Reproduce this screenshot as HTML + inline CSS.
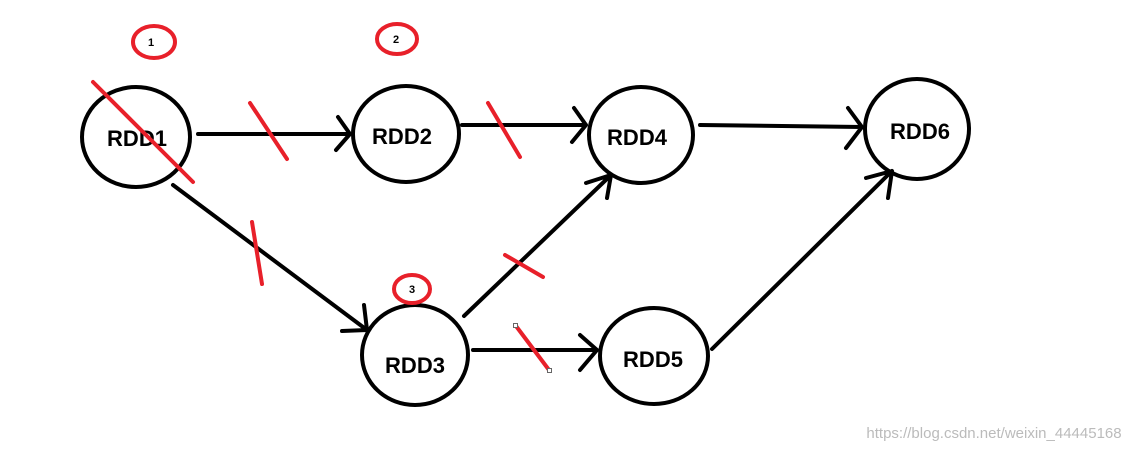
<!DOCTYPE html>
<html><head><meta charset="utf-8"><style>
html,body{margin:0;padding:0;background:#fff;}
svg{display:block;}
text{font-family:"Liberation Sans",sans-serif;}
</style></head><body>
<svg width="1137" height="452" viewBox="0 0 1137 452" xmlns="http://www.w3.org/2000/svg">
<g fill="none" stroke="#000" stroke-width="4" stroke-linecap="round" stroke-linejoin="round">
<ellipse cx="136" cy="137" rx="54" ry="50"/>
<ellipse cx="406" cy="134" rx="53" ry="48"/>
<ellipse cx="641" cy="135" rx="52" ry="48"/>
<ellipse cx="917" cy="129" rx="52" ry="50"/>
<ellipse cx="415" cy="355" rx="53" ry="50"/>
<ellipse cx="654" cy="356" rx="54" ry="48"/>
<path d="M198 134H350M338 117L350 134L336 150"/>
<path d="M173 185L367 330M364 305L367 330L342 331"/>
<path d="M462 125H586M574 108L586 125L572 142"/>
<path d="M700 125L862 127M848 108L862 127L846 148"/>
<path d="M464 316L610 176M586 183L611 175L607 198"/>
<path d="M473 350H597M580 335L597 350L580 370"/>
<path d="M712 349L892 171M866 178L892 171L888 198"/>
</g>
<g font-weight="bold" font-size="22" text-anchor="middle" fill="#000">
<text x="137" y="146">RDD1</text>
<text x="402" y="144">RDD2</text>
<text x="637" y="145">RDD4</text>
<text x="920" y="139">RDD6</text>
<text x="415" y="373">RDD3</text>
<text x="653" y="367">RDD5</text>
</g>
<g fill="none" stroke="#e8202a" stroke-width="4" stroke-linecap="round">
<ellipse cx="154" cy="42" rx="21" ry="16"/>
<ellipse cx="397" cy="39" rx="20" ry="15"/>
<ellipse cx="412" cy="289" rx="18" ry="14"/>
<path d="M93 82L193 182"/>
<path d="M250 103L287 159"/>
<path d="M488 103L520 157"/>
<path d="M252 222L262 284"/>
<path d="M505 255L543 277"/>
<path d="M516 326L549 370"/>
</g>
<g fill="#fff" stroke="#666" stroke-width="1">
<rect x="513.5" y="323.5" width="4" height="4"/>
<rect x="547.5" y="368.5" width="4" height="4"/>
</g>
<g font-weight="bold" font-size="11" text-anchor="middle" fill="#000">
<text x="151" y="46">1</text>
<text x="396" y="43">2</text>
<text x="412" y="293">3</text>
</g>
<text x="994" y="438" font-size="15" fill="#bbb" text-anchor="middle">https://blog.csdn.net/weixin_44445168</text>
</svg>
</body></html>
